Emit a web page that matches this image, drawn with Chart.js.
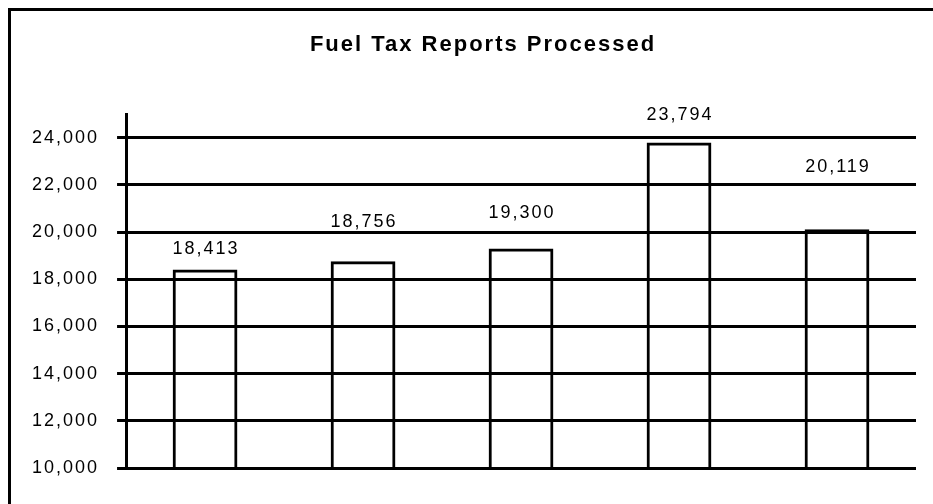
<!DOCTYPE html>
<html>
<head>
<meta charset="utf-8">
<script src="https://cdn.jsdelivr.net/npm/chart.js@4.4.1/dist/chart.umd.min.js"></script>
<style>
  html, body { margin: 0; padding: 0; background: #fff; }
  #wrap { width: 933px; height: 504px; }
</style>
</head>
<body>
<div id="wrap"><canvas id="fuelChart"></canvas></div>
<script>
// report counts, one bar per period (no x labels shown in the original)
var periods = ['1', '2', '3', '4', '5'];
var reportCounts = [18413, 18756, 19300, 23794, 20119];
var yTicks = [10000, 12000, 14000, 16000, 18000, 20000, 22000, 24000];
var chartTitle = 'Fuel Tax Reports Processed';

var FONT = "'Liberation Sans', Arial, sans-serif";

function spacing(chart) {
    chart.ctx.letterSpacing = '2px';
}

// outer frame (only top + left edges are visible, the original is cropped on the right)
// title is centred on that wider frame, so it sits a bit right of the canvas centre
var framePlugin = {
    id: 'frame',
    beforeUpdate: spacing,
    beforeLayout: spacing,
    beforeDraw: function (chart) {
        var ctx = chart.ctx;
        spacing(chart);
        ctx.save();
        ctx.fillStyle = '#000';
        ctx.fillRect(8, 8, chart.width - 8, 3);
        ctx.fillRect(8, 8, 3, chart.height - 8);
        ctx.font = 'bold 22px ' + FONT;
        ctx.textAlign = 'center';
        ctx.textBaseline = 'middle';
        ctx.fillText(chartTitle, 483, 45);
        ctx.restore();
    }
};

// value labels above the bars, placed by hand like the original
var valueLabels = {
    id: 'valueLabels',
    afterDatasetsDraw: function (chart, args, opts) {
        var ctx = chart.ctx;
        var meta = chart.getDatasetMeta(0);
        ctx.save();
        ctx.font = '18px ' + FONT;
        ctx.fillStyle = '#000';
        ctx.textAlign = 'center';
        ctx.textBaseline = 'middle';
        meta.data.forEach(function (bar, i) {
            var txt = reportCounts[i].toLocaleString('en-US');
            ctx.fillText(txt, bar.x + 1, bar.y - opts.offsets[i]);
        });
        ctx.restore();
    }
};

new Chart(document.getElementById('fuelChart'), {
    type: 'bar',
    data: {
        labels: periods,
        datasets: [{
            data: reportCounts,
            backgroundColor: 'rgba(0,0,0,0)',
            borderColor: '#000',
            borderWidth: 3,
            barPercentage: 0.41,
            categoryPercentage: 1
        }]
    },
    plugins: [framePlugin, valueLabels],
    options: {
        responsive: true,
        maintainAspectRatio: false,
        animation: false,
        layout: { padding: { left: 14, right: 17, top: 114, bottom: 36 } },
        plugins: {
            legend: { display: false },
            tooltip: { enabled: false },
            title: { display: false },
            valueLabels: { offsets: [20, 39, 35, 27, 62] }
        },
        scales: {
            x: { display: false },
            y: {
                min: 10000,
                max: 25000,
                afterBuildTicks: function (scale) {
                    scale.ticks = yTicks.map(function (v) { return { value: v }; });
                },
                border: { display: true, color: '#000', width: 3 },
                grid: {
                    color: '#000',
                    lineWidth: 3,
                    drawTicks: true,
                    tickLength: 9,
                    tickColor: '#000'
                },
                ticks: {
                    color: '#000',
                    padding: 18,
                    font: { family: FONT, size: 18 },
                    callback: function (v) { return Number(v).toLocaleString('en-US'); }
                }
            }
        }
    }
});
</script>
</body>
</html>
